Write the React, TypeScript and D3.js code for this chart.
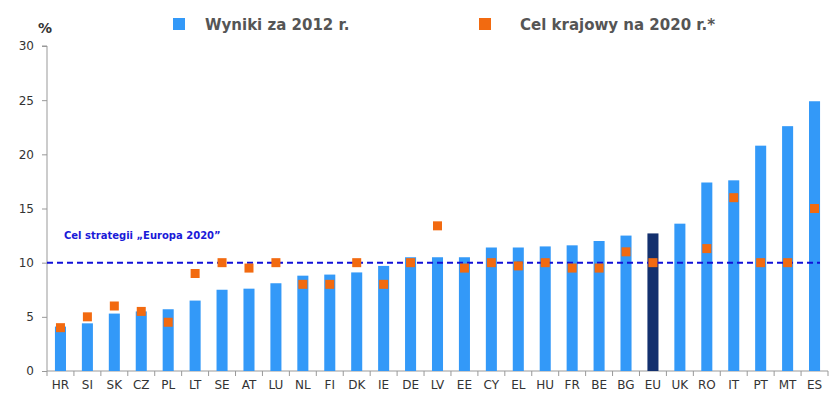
import React, { useEffect, useRef } from 'react';
import * as d3 from 'd3';

const countries = ['HR', 'SI', 'SK', 'CZ', 'PL', 'LT', 'SE', 'AT', 'LU', 'NL', 'FI', 'DK', 'IE', 'DE', 'LV', 'EE', 'CY', 'EL', 'HU', 'FR', 'BE', 'BG', 'EU', 'UK', 'RO', 'IT', 'PT', 'MT', 'ES'];
const results2012 = [4.1, 4.4, 5.3, 5.5, 5.7, 6.5, 7.5, 7.6, 8.1, 8.8, 8.9, 9.1, 9.7, 10.5, 10.5, 10.5, 11.4, 11.4, 11.5, 11.6, 12.0, 12.5, 12.7, 13.6, 17.4, 17.6, 20.8, 22.6, 24.9];
const targets2020 = [4, 5, 6, 5.5, 4.5, 9, 10, 9.5, 10, 8, 8, 10, 8, 10, 13.4, 9.5, 10, 9.7, 10, 9.5, 9.5, 11, 10, null, 11.3, 16, 10, 10, 15];
const yTicks = [0, 5, 10, 15, 20, 25, 30];
const euTarget = 10;
const legendLabels = ['Wyniki za 2012 r.', 'Cel krajowy na 2020 r.*'];

const App = () => {
  const ref = useRef(null);

  useEffect(() => {
    if (ref.current) draw(ref.current);
  }, []);

  return <svg ref={ref} width={839} height={410} style={{ position: 'absolute', left: 0, top: 0 }} />;
};

function draw(node) {
  const svg = d3.select(node);
  svg.selectAll('*').remove();

  const left = 47, right = 828, top = 46, bottom = 371;
  const font = 'Verdana, "DejaVu Sans", sans-serif';

  const x = d3.scaleBand().domain(countries).range([left, right]).padding(0);
  const y = d3.scaleLinear().domain([0, 30]).range([bottom, top]);
  const barW = x.bandwidth() * 0.41;

  // y axis
  const yAxis = svg.append('g')
    .attr('transform', `translate(${left},0)`)
    .call(d3.axisLeft(y).tickValues(yTicks).tickSize(5).tickPadding(8));
  yAxis.select('.domain').attr('stroke', '#999').attr('d', `M-5,${top}H0V${bottom}`);
  yAxis.selectAll('.tick line').attr('stroke', '#999');
  yAxis.selectAll('.tick text').attr('fill', '#333').style('font-size', '12px').style('font-family', font);

  svg.append('text')
    .attr('x', 45).attr('y', 33)
    .attr('text-anchor', 'middle')
    .attr('fill', '#333')
    .style('font-size', '14px').style('font-weight', 'bold').style('font-family', font)
    .text('%');

  // x axis
  svg.append('line')
    .attr('x1', left).attr('x2', right)
    .attr('y1', bottom).attr('y2', bottom)
    .attr('stroke', '#999');
  svg.selectAll('.xtick')
    .data([...countries.map(c => x(c)), right])
    .enter().append('line')
    .attr('x1', d => d).attr('x2', d => d)
    .attr('y1', bottom).attr('y2', bottom + 5)
    .attr('stroke', '#999');
  svg.selectAll('.xlabel')
    .data(countries)
    .enter().append('text')
    .attr('x', d => x(d) + x.bandwidth() / 2)
    .attr('y', 389)
    .attr('text-anchor', 'middle')
    .attr('fill', '#333')
    .style('font-size', '12px').style('font-family', font)
    .text(d => d);

  // bars
  svg.selectAll('.bar')
    .data(countries)
    .enter().append('rect')
    .attr('x', d => x(d) + (x.bandwidth() - barW) / 2)
    .attr('width', barW)
    .attr('y', (d, i) => y(results2012[i]))
    .attr('height', (d, i) => bottom - y(results2012[i]))
    .attr('fill', d => d === 'EU' ? '#13306e' : '#3399f8');

  // EU target line
  svg.append('line')
    .attr('x1', left).attr('x2', 820)
    .attr('y1', y(euTarget)).attr('y2', y(euTarget))
    .attr('stroke', '#1010d8')
    .attr('stroke-width', 2)
    .attr('stroke-dasharray', '6,4');

  svg.append('text')
    .attr('x', 64).attr('y', 239)
    .attr('fill', '#1a1ad8')
    .style('font-size', '10px').style('font-weight', 'bold').style('font-family', font)
    .text('Cel strategii \u201eEuropa 2020\u201d');

  // targets
  const sq = 9;
  svg.selectAll('.target')
    .data(countries.map((c, i) => ({ c, v: targets2020[i] })).filter(d => d.v !== null))
    .enter().append('rect')
    .attr('x', d => x(d.c) + x.bandwidth() / 2 - sq / 2)
    .attr('y', d => y(d.v) - sq / 2)
    .attr('width', sq).attr('height', sq)
    .attr('fill', '#f26a10');

  // legend
  const legend = [
    { label: legendLabels[0], color: '#3399f8', sx: 173, tx: 205 },
    { label: legendLabels[1], color: '#f26a10', sx: 479, tx: 520 },
  ];
  legend.forEach(l => {
    svg.append('rect').attr('x', l.sx).attr('y', 18).attr('width', 12).attr('height', 12).attr('fill', l.color);
    svg.append('text')
      .attr('x', l.tx).attr('y', 30)
      .attr('fill', '#555')
      .style('font-size', '15px').style('font-weight', 'bold').style('font-family', font)
      .text(l.label);
  });
}

export default App;
